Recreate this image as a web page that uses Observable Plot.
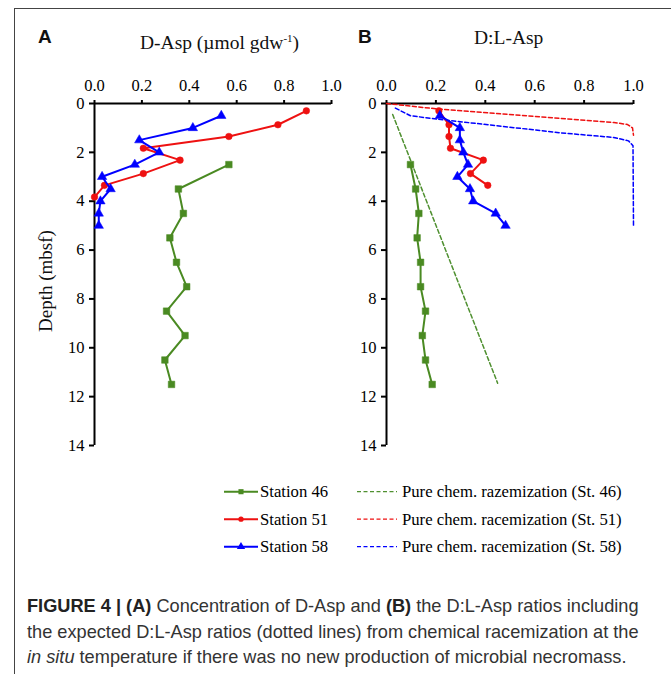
<!DOCTYPE html>
<html>
<head>
<meta charset="utf-8">
<script src="https://cdn.jsdelivr.net/npm/d3@7"></script>
<script src="https://cdn.jsdelivr.net/npm/@observablehq/plot@0.6"></script>
<style>
  html, body { margin: 0; padding: 0; background: #fff; }
  #fig { position: relative; width: 671px; height: 674px; overflow: hidden; font-family: "Liberation Serif", "Times New Roman", serif; }
  #frame { position: absolute; left: 14px; top: 8px; right: -2px; bottom: -2px; border-left: 1px solid #444; border-top: 1px solid #444; }
  .abs { position: absolute; white-space: nowrap; }
  .panel-letter { font-family: "Liberation Sans", Arial, sans-serif; font-weight: bold; font-size: 19px; color: #111; }
  .panel-title { font-family: "Liberation Serif", serif; font-size: 19.5px; line-height: 22px; color: #111; }
  .ytitle { font-family: "Liberation Serif", serif; font-size: 19px; color: #111; transform: translate(-50%, -50%) rotate(-90deg); }
  .cap { font-family: "Liberation Sans", Arial, sans-serif; font-size: 18.2px; line-height: 20px; color: #333; }
  .cap b { color: #222; }
  #panelA svg text, #panelB svg text { font-family: "Liberation Serif", "Times New Roman", serif !important; }
</style>
</head>
<body>
<div id="fig">
  <div id="frame"></div>
  <div class="abs panel-letter" style="left:38px; top:26px;">A</div>
  <div class="abs panel-title" style="left:140px; top:27px;">D-Asp (µmol gdw<sup style="font-size:11px; vertical-align: 7px;">-1</sup>)</div>
  <div class="abs panel-letter" style="left:358px; top:26px;">B</div>
  <div class="abs panel-title" style="left:474px; top:27px;">D:L-Asp</div>
  <div class="abs ytitle" style="left:46px; top:281px;">Depth (mbsf)</div>
  <div id="panelA" class="abs" style="left:0; top:0;"></div>
  <div id="panelB" class="abs" style="left:345px; top:0;"></div>
  <div id="legend" class="abs" style="left:0; top:470px;"></div>
  <div class="abs cap" style="left:27px; top:596px;"><b>FIGURE 4 | (A)</b> Concentration of D-Asp and <b>(B)</b> the D:L-Asp ratios including</div>
  <div class="abs cap" style="left:27px; top:622px;">the expected D:L-Asp ratios (dotted lines) from chemical racemization at the</div>
  <div class="abs cap" style="left:27px; top:647px;"><i>in situ</i> temperature if there was no new production of microbial necromass.</div>
</div>
<script>
// Depths (mbsf) of the sampled intervals at each station
const depth46 = [2.5, 3.5, 4.5, 5.5, 6.5, 7.5, 8.5, 9.5, 10.5, 11.5];
const depth51 = [0.3, 0.87, 1.35, 1.83, 2.32, 2.87, 3.35, 3.83];
const depth58 = [0.5, 1.0, 1.5, 2.0, 2.5, 3.0, 3.5, 4.0, 4.5, 5.0];

// Panel A: D-Asp concentration (µmol gdw-1)
const dAsp46 = [0.567, 0.354, 0.375, 0.318, 0.346, 0.389, 0.304, 0.382, 0.297, 0.325];
const dAsp51 = [0.894, 0.774, 0.567, 0.206, 0.361, 0.206, 0.042, 0.0];
const dAsp58 = [0.535, 0.415, 0.189, 0.273, 0.170, 0.032, 0.068, 0.025, 0.018, 0.018];

// Panel B: D:L-Asp ratio (station 51 has no ratio for its deepest sample)
const ratio46 = [0.097, 0.118, 0.131, 0.124, 0.138, 0.138, 0.158, 0.145, 0.158, 0.185];
const ratio51 = [0.212, 0.253, 0.253, 0.259, 0.392, 0.340, 0.410];
const ratio58 = [0.216, 0.297, 0.297, 0.311, 0.330, 0.287, 0.338, 0.351, 0.442, 0.482];

// Expected D:L-Asp from pure chemical racemization
const chemDepth46 = [0.45, 11.45];
const chemRatio46 = [0.025, 0.45];
const chemDepth51 = [0.0, 0.23, 0.61, 0.78, 0.86, 1.0, 1.3];
const chemRatio51 = [0.0, 0.212, 0.705, 0.921, 0.976, 0.996, 1.0];
const chemDepth58 = [0.19, 0.5, 0.64, 1.2, 1.39, 1.53, 1.73, 5.0];
const chemRatio58 = [0.036, 0.097, 0.205, 0.705, 0.92, 0.98, 0.998, 1.0];

// Axis ticks
const xTicks = [0, 0.2, 0.4, 0.6, 0.8, 1.0];
const yTicks = [0, 2, 4, 6, 8, 10, 12, 14];

const GREEN = "#4a8a22", RED = "#ee1111", BLUE = "#0000ff";
const GREEN_DASH = "#4f9030";
const SERIF = "Liberation Serif, Times New Roman, serif";

const pts = (ds, vs) => vs.map((v, i) => ({depth: ds[i], v}));

function panel(width, marginLeft, marginRight, series, dashed) {
  const marks = [
    Plot.axisX({anchor: "top", ticks: xTicks, tickFormat: d3.format(".1f"), tickSize: 4, tickPadding: 9, strokeWidth: 2, label: null, fontSize: 16.5, fontFamily: SERIF}),
    Plot.axisY({anchor: "left", ticks: yTicks, tickSize: 5, tickPadding: 5, strokeWidth: 2, label: null, fontSize: 16.5, fontFamily: SERIF}),
    Plot.ruleY([0], {x1: 0, x2: 1, stroke: "#000", strokeWidth: 2}),
    Plot.ruleX([0], {y1: 0, y2: 14, stroke: "#000", strokeWidth: 2})
  ];
  for (const d of dashed) {
    marks.push(Plot.line(pts(d.depth, d.v), {x: "v", y: "depth", stroke: d.color, strokeWidth: 1.5, strokeDasharray: "4,2.5"}));
  }
  for (const s of series) {
    const data = pts(s.depth, s.v);
    marks.push(Plot.line(data, {x: "v", y: "depth", stroke: s.color, strokeWidth: 2}));
    marks.push(Plot.dot(data, {x: "v", y: "depth", symbol: s.symbol, r: s.r, fill: s.color, stroke: s.color, strokeWidth: 0.5}));
  }
  return Plot.plot({
    width, height: 460,
    marginTop: 103, marginBottom: 15, marginLeft, marginRight,
    x: {domain: [0, 1], axis: null},
    y: {domain: [0, 14], reverse: true, axis: null},
    style: {fontFamily: SERIF, fontSize: "16.5px", color: "#000", background: "transparent", overflow: "visible"},
    marks
  });
}

const chartA = panel(345, 94, 14, [
  {depth: depth46, v: dAsp46, color: GREEN, symbol: "square", r: 3.7},
  {depth: depth51, v: dAsp51, color: RED, symbol: "circle", r: 3.3},
  {depth: depth58, v: dAsp58, color: BLUE, symbol: "triangle", r: 3.5}
], []);
document.getElementById("panelA").appendChild(chartA);

const chartB = panel(326, 41, 38, [
  {depth: depth46, v: ratio46, color: GREEN, symbol: "square", r: 3.7},
  {depth: depth51.slice(0, ratio51.length), v: ratio51, color: RED, symbol: "circle", r: 3.3},
  {depth: depth58, v: ratio58, color: BLUE, symbol: "triangle", r: 3.5}
], [
  {depth: chemDepth46, v: chemRatio46, color: GREEN_DASH},
  {depth: chemDepth58, v: chemRatio58, color: BLUE},
  {depth: chemDepth51, v: chemRatio51, color: RED}
]);
document.getElementById("panelB").appendChild(chartB);

// Legend
const legendRows = [
  {label: "Station 46", color: GREEN, symbol: d3.symbolSquare, size: 26, chem: "Pure chem. razemization (St. 46)", chemColor: GREEN_DASH},
  {label: "Station 51", color: RED, symbol: d3.symbolCircle, size: 22, chem: "Pure chem. racemization (St. 51)", chemColor: RED},
  {label: "Station 58", color: BLUE, symbol: d3.symbolTriangle, size: 30, chem: "Pure chem. racemization (St. 58)", chemColor: BLUE}
];
const lsvg = d3.select("#legend").append("svg").attr("width", 671).attr("height", 90)
  .style("font-family", SERIF).style("font-size", "16.7px");
legendRows.forEach((r, i) => {
  const y = 21.7 + i * 27.5;
  const g = lsvg.append("g").attr("transform", `translate(0,${y})`);
  g.append("line").attr("x1", 224).attr("x2", 258).attr("stroke", r.color).attr("stroke-width", 2);
  g.append("path").attr("d", d3.symbol(r.symbol, r.size)()).attr("transform", "translate(241,0)").attr("fill", r.color);
  g.append("text").attr("x", 260).attr("dy", "0.33em").text(r.label);
  g.append("line").attr("x1", 357).attr("x2", 397).attr("stroke", r.chemColor).attr("stroke-width", 1.3).attr("stroke-dasharray", "4,2.5");
  g.append("text").attr("x", 402).attr("dy", "0.33em").text(r.chem);
});
</script>
</body>
</html>
